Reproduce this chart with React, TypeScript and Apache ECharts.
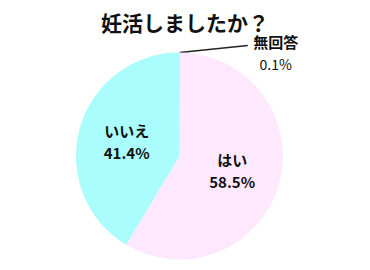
import React, { useEffect, useRef } from "react";
import * as echarts from "echarts";

const titleText = "妊活しましたか？";
const categories = ["無回答", "はい", "いいえ"];
const values = [0.1, 58.5, 41.4];
const colors = ["#C8C8C8", "#FDE8FD", "#ABFCFC"];

export default function App() {
  const ref = useRef<HTMLDivElement>(null);
  useEffect(() => {
    if (!ref.current) return;
    const chart = echarts.init(ref.current, null, { renderer: "svg" });
    const font = "'Noto Sans CJK JP', 'Noto Sans', sans-serif";
    const data = categories.map((name, i) => {
      const base: any = {
        name,
        value: values[i],
        itemStyle: { color: colors[i] },
      };
      if (i === 0) {
        base.label = {
          show: true,
          position: "outside",
          formatter: (p: any) => `{a|${p.name}}\n{b|${p.value}%}`,
          rich: {
            a: { width: 52, align: "center", fontSize: 15, fontWeight: "bold", lineHeight: 22, color: "#111", fontFamily: font },
            b: { width: 52, align: "center", fontSize: 14, fontWeight: "normal", lineHeight: 22, color: "#111", fontFamily: font },
          },
          distanceToLabelLine: 2,
        };
        base.labelLine = { show: true, length: 0, length2: 68, lineStyle: { color: "#222", width: 1.5 } };
      }
      return base;
    });
    chart.setOption({
      animation: false,
      title: {
        text: titleText,
        left: "center",
        top: 6,
        textStyle: { fontSize: 21, fontWeight: "bold", color: "#111", fontFamily: font },
      },
      series: [
        {
          type: "pie",
          center: ["48.5%", "57.8%"],
          radius: 103.5,
          startAngle: 90,
          clockwise: true,
          avoidLabelOverlap: false,
          itemStyle: { borderWidth: 0 },
          label: {
            show: true,
            position: "inside",
            formatter: (p: any) => `${p.name}\n${p.value}%`,
            fontSize: 15,
            fontWeight: "bold",
            lineHeight: 22,
            color: "#111",
            fontFamily: font,
          },
          labelLine: { show: false },
          emphasis: { disabled: true },
          labelLayout: (params: any) => {
            if (params.dataIndex !== 0 || !params.labelLinePoints) return {};
            const pts = params.labelLinePoints;
            const start = pts[0];
            const end = pts[pts.length - 1];
            return { labelLinePoints: [start, [end[0], end[1] - 7]] };
          },
          data,
        },
      ],
    });
    return () => chart.dispose();
  }, []);
  return (
    <div
      ref={ref}
      style={{ position: "fixed", left: 0, top: 0, width: 370, height: 270, background: "#fff" }}
    />
  );
}
